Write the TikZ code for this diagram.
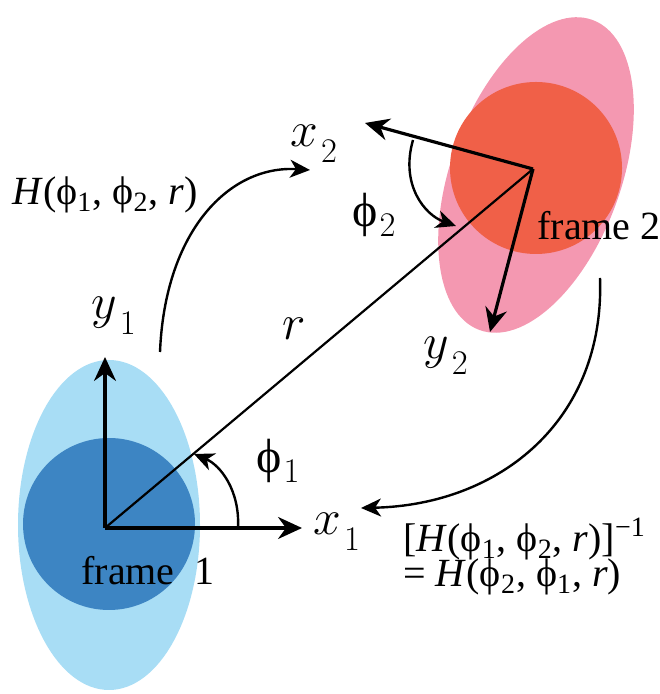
\documentclass[tikz,border=0pt]{standalone}
\usepackage{fontspec}
\setmainfont{Liberation Serif}
\usetikzlibrary{arrows.meta}
\definecolor{lightblue}{RGB}{168,221,245}
\definecolor{darkblue}{RGB}{61,133,195}
\definecolor{lightpink}{RGB}{244,152,177}
\definecolor{redorange}{RGB}{240,96,72}
\newcommand{\ph}{ϕ}
\newcommand{\axlab}[2]{$#1$\kern1.5pt\raisebox{-8pt}{\fontsize{17}{17}\selectfont$#2$}}
\newcommand{\anglab}[1]{\fontsize{24}{28}\selectfont\ph\kern1pt\raisebox{-5pt}{\fontsize{17}{17}\selectfont$#1$}}
\begin{document}
\begin{tikzpicture}[x=0.5pt,y=0.5pt,
  axis/.style={line width=1.6pt,-{Stealth[length=12pt,width=11pt,inset=4pt]}},
  curvearrow/.style={line width=1.2pt,-{Stealth[length=10pt,width=9pt,inset=3pt]}},
  lbl/.style={inner sep=0pt,anchor=base west,font=\fontsize{20}{24}\selectfont},
  axl/.style={inner sep=0pt,anchor=base west,font=\fontsize{25}{28}\selectfont},
  ]
\useasboundingbox (0,0) rectangle (659,694);
% frame 1 shapes
\fill[lightblue] (109,169) ellipse [x radius=91, y radius=165];
\fill[darkblue] (109,170) circle [radius=86];
% frame 2 shapes
\fill[lightpink, rotate around={-20:(536,519)}] (536,519) ellipse [x radius=85, y radius=165];
\fill[redorange] (536,526) circle [radius=86];
% coordinates
\coordinate (O1) at (105,166);
\coordinate (Y1) at (105,337);
\coordinate (X1) at (302,166);
\coordinate (O2) at (533,525);
\coordinate (X2) at (365,571);
\coordinate (Y2) at (490,362);
% r line
\draw[line width=1.1pt] (O1) -- (O2);
% axes
\draw[axis] (O1) -- (Y1);
\draw[axis] (O1) -- (X1);
\draw[axis] (O2) -- (X2);
\draw[axis] (O2) -- (Y2);
% angle arcs
\coordinate (a1s) at (238,166);
\coordinate (a1e) at (194,240);
\draw[curvearrow] (a1s) .. controls (240,204) and (220,229) .. (a1e);
\coordinate (a2s) at (413,554);
\coordinate (a2e) at (456,468);
\draw[curvearrow] (a2s) .. controls (400,509) and (425,479) .. (a2e);
% transform arrows
\coordinate (h1s) at (160,342);
\coordinate (h1e) at (310,524);
\draw[curvearrow] (h1s) .. controls (165,464) and (230,529) .. (h1e);
\coordinate (h2s) at (600,416);
\coordinate (h2e) at (361,186);
\draw[curvearrow] (h2s) .. controls (605,274) and (500,189) .. (h2e);
% labels
\node[lbl] (lf1) at (81,109) {frame\ \ 1};
\node[lbl] (lf2) at (537,454) {frame 2};
\node[axl] (lx1) at (313,159) {\axlab{x}{1}};
\node[axl] (ly1) at (91,375) {\axlab{y}{1}};
\node[axl] (lx2) at (290,547) {\axlab{x}{2}};
\node[axl] (ly2) at (423,335) {\axlab{y}{2}};
\node[axl,font=\fontsize{28}{30}\selectfont] (lr) at (282,354) {$r$};
\node[inner sep=0pt,anchor=base west] (lp1) at (256,221) {\anglab{1}};
\node[inner sep=0pt,anchor=base west] (lp2) at (352,467) {\anglab{2}};
\node[lbl] (lH) at (12,489) {\textit{H}(\ph\textsubscript{1}, \ph\textsubscript{2}, \textit{r})};
\node[lbl] (lInv) at (403,142) {[\textit{H}(\ph\textsubscript{1}, \ph\textsubscript{2}, \textit{r})]\textsuperscript{−1}};
\node[lbl] (lEq) at (403,107) {= \textit{H}(\ph\textsubscript{2}, \ph\textsubscript{1}, \textit{r})};
\end{tikzpicture}
\end{document}
